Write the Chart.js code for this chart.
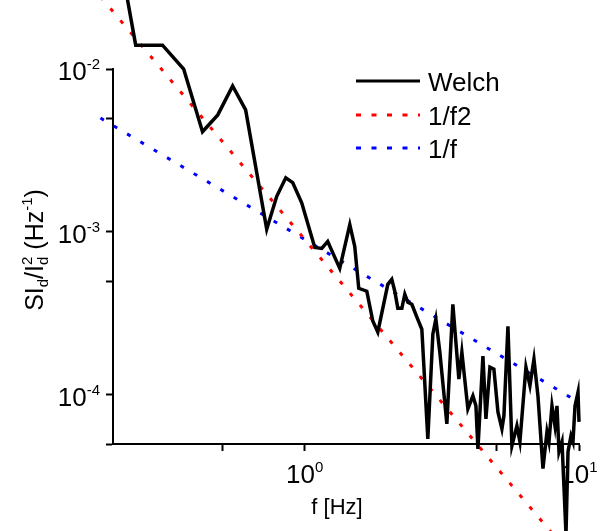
<!DOCTYPE html>
<html>
<head>
<meta charset="utf-8">
<script src="https://cdn.jsdelivr.net/npm/chart.js@4.4.1/dist/chart.umd.min.js"></script>
<style>
  body { margin: 0; background: #fff; }
</style>
</head>
<body>
<canvas id="psdChart" width="607" height="531"></canvas>
<script>
// Welch PSD estimate (f in Hz, SI_d/I_d^2 in 1/Hz)
const welchFreq = [0.182, 0.242, 0.303, 0.362, 0.424, 0.482, 0.546, 0.609, 0.727, 0.79,
    0.853, 0.904, 0.975, 1.088, 1.154, 1.213, 1.342, 1.46, 1.522, 1.574,
    1.684, 1.771, 1.847, 2.009, 2.077, 2.13, 2.185, 2.26, 2.317, 2.376,
    2.458, 2.564, 2.673, 2.811, 2.932, 3.007, 3.109, 3.298, 3.468, 3.648,
    3.741, 3.934, 4.104, 4.209, 4.281, 4.464, 4.578, 4.734, 4.895, 5.063,
    5.236, 5.325, 5.507, 5.695, 5.937, 6.09, 6.406, 6.625, 6.851, 7.085,
    7.389, 7.642, 7.771, 7.97, 8.173, 8.312, 8.453, 8.67, 8.966, 9.118,
    9.35, 9.508, 9.67, 9.917, 10.0];
const welchPsd = [0.2, 0.014, 0.014, 0.01, 0.00412, 0.00523, 0.00787, 0.00561, 0.00104, 0.00165,
    0.00215, 0.00201, 0.00151, 0.000804, 0.000793, 0.000875, 0.000598, 0.00111, 0.000815, 0.000451,
    0.000433, 0.000284, 0.000243, 0.000477, 0.000512, 0.000433, 0.00034, 0.00034, 0.000415, 0.00037,
    0.00036, 0.0003, 0.000253, 5.38e-5, 0.000236, 0.000292, 0.000183, 6.65e-5, 0.00036, 0.000125,
    0.000183, 8.21e-5, 9.86e-5, 8.57e-5, 4.67e-5, 0.000173, 7.13e-5, 0.000148, 0.000144, 7.87e-5,
    6.19e-5, 7.44e-5, 0.000264, 4.88e-5, 6.46e-5, 5.16e-5, 0.000148, 0.000114, 0.000166, 9.86e-5,
    3.53e-5, 5.94e-5, 5.16e-5, 8.57e-5, 6.46e-5, 8.57e-5, 4.48e-5, 5.16e-5, 1.4e-5, 4.48e-5,
    5.61e-5, 5.16e-5, 8.57e-5, 0.000104, 6.84e-5];

// reference slopes (end points only)
const fitFreq = [0.18, 10];
const invF2 = [0.0278, 9e-6];
const invF = [0.005, 9e-5];

// axis ticks and labels
const xTickValues = [0.5, 1, 5, 10];
const yTickValues = [5e-5, 1e-4, 5e-4, 1e-3, 5e-3, 1e-2];
const xLabelValues = [1, 10];
const xLabelExp = ["0", "1"];
const yLabelValues = [1e-2, 1e-3, 1e-4];
const yLabelExp = ["-2", "-3", "-4"];

const FONT = '"Liberation Sans", Arial, sans-serif';

function pairs(xs, ys) {
    return xs.map((x, i) => ({ x: x, y: ys[i] }));
}

// draws "10" with a raised exponent
function drawPow(ctx, exp, x, y, align) {
    ctx.font = "26px " + FONT;
    const wb = ctx.measureText("10").width;
    ctx.font = "15px " + FONT;
    const we = ctx.measureText(exp).width;
    const start = align === "right" ? x - wb - we : x - (wb + we) / 2;
    ctx.textAlign = "left";
    ctx.textBaseline = "alphabetic";
    ctx.font = "26px " + FONT;
    ctx.fillText("10", start, y);
    ctx.font = "15px " + FONT;
    ctx.fillText(exp, start + wb, y - 11);
}

// text pieces: [text, size, baseline shift, keepX]
function drawPieces(ctx, pieces, x, y) {
    let w = 0;
    pieces.forEach(p => {
        ctx.font = p[1] + "px " + FONT;
        if (!p[3]) w += ctx.measureText(p[0]).width;
    });
    let cx = x - w / 2;
    ctx.textAlign = "left";
    ctx.textBaseline = "alphabetic";
    pieces.forEach(p => {
        ctx.font = p[1] + "px " + FONT;
        ctx.fillText(p[0], cx, y + p[2]);
        if (!p[3]) cx += ctx.measureText(p[0]).width;
    });
}

const axisText = {
    id: "axisText",
    beforeDatasetsDraw(chart) {
        const ctx = chart.ctx;
        const xs = chart.scales.x, ys = chart.scales.y;
        ctx.save();
        ctx.fillStyle = "#000";
        yLabelValues.forEach((v, i) => {
            drawPow(ctx, yLabelExp[i], 100, ys.getPixelForValue(v) + 11, "right");
        });
        xLabelValues.forEach((v, i) => {
            drawPow(ctx, xLabelExp[i], xs.getPixelForValue(v), xs.top + 39, "center");
        });
        // x title
        ctx.font = "22px " + FONT;
        ctx.textAlign = "center";
        ctx.textBaseline = "alphabetic";
        ctx.fillText("f [Hz]", 337, 514);
        // y title, rotated
        ctx.translate(43, 250);
        ctx.rotate(-Math.PI / 2);
        drawPieces(ctx, [
            ["SI", 25, 0], ["d", 15, 5], ["/I", 25, 0],
            ["2", 15, -11, true], ["d", 15, 5], [" (Hz", 25, 0],
            ["-1", 15, -11], [")", 25, 0]
        ], 0, 0);
        ctx.restore();
    }
};

const legendBox = {
    id: "legendBox",
    afterDraw(chart) {
        const ctx = chart.ctx;
        const rows = [81, 115, 148];
        ctx.save();
        chart.data.datasets.forEach((ds, i) => {
            const y = rows[i];
            ctx.beginPath();
            ctx.strokeStyle = ds.borderColor;
            ctx.lineWidth = 3;
            ctx.setLineDash(ds.borderDash.length ? [5, 10.5] : []);
            ctx.moveTo(356, y);
            ctx.lineTo(420, y);
            ctx.stroke();
            ctx.setLineDash([]);
            ctx.fillStyle = "#000";
            ctx.font = "26px " + FONT;
            ctx.textAlign = "left";
            ctx.textBaseline = "alphabetic";
            ctx.fillText(ds.label, 428, y + 10);
        });
        ctx.restore();
    }
};

const ctx = document.getElementById("psdChart").getContext("2d");

new Chart(ctx, {
    type: "line",
    data: {
        datasets: [{
            label: "Welch",
            data: pairs(welchFreq, welchPsd),
            borderColor: "#000000",
            borderWidth: 3.5,
            borderDash: [],
            pointRadius: 0,
            clip: false
        }, {
            label: "1/f2",
            data: pairs(fitFreq, invF2),
            borderColor: "#ff0000",
            borderWidth: 3,
            borderDash: [4, 11.5],
            pointRadius: 0,
            clip: false
        }, {
            label: "1/f",
            data: pairs(fitFreq, invF),
            borderColor: "#0000ff",
            borderWidth: 3,
            borderDash: [4, 11.5],
            pointRadius: 0,
            clip: false
        }]
    },
    options: {
        responsive: false,
        animation: false,
        layout: { padding: { top: 69, right: 28, left: 0, bottom: 0 } },
        plugins: {
            legend: { display: false },
            tooltip: { enabled: false }
        },
        scales: {
            x: {
                type: "logarithmic",
                min: 0.2,
                max: 10,
                afterBuildTicks: s => { s.ticks = xTickValues.map(v => ({ value: v })); },
                afterFit: s => { s.height = 87; },
                ticks: { callback: () => "", autoSkip: false, maxRotation: 0 },
                grid: { drawOnChartArea: false, tickLength: 7, tickColor: "#000", tickWidth: 2 },
                border: { color: "#000", width: 2 }
            },
            y: {
                type: "logarithmic",
                min: 5e-5,
                max: 1e-2,
                afterBuildTicks: s => { s.ticks = yTickValues.map(v => ({ value: v })); },
                afterFit: s => { s.width = 113; },
                ticks: { callback: () => "", autoSkip: false },
                grid: { drawOnChartArea: false, tickLength: 7, tickColor: "#000", tickWidth: 2 },
                border: { color: "#000", width: 2 }
            }
        }
    },
    plugins: [axisText, legendBox]
});
</script>
</body>
</html>
